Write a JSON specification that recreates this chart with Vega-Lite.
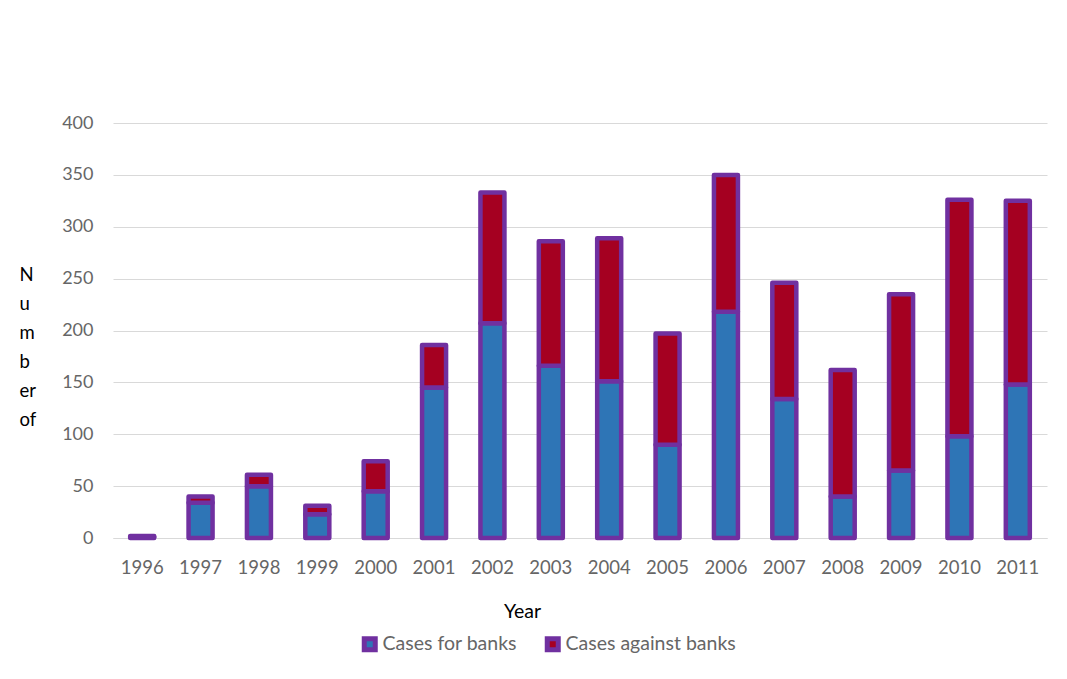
{
  "$schema": "https://vega.github.io/schema/vega-lite/v6.json",
  "autosize": {"type": "none"},
  "padding": {"left": 113, "top": 123, "right": 20, "bottom": 141},
  "width": 934,
  "height": 415,
  "background": "white",
  "config": {"view": {"stroke": null}, "font": "Lato"},
  "data": {
    "values": [
      {"year": "1996", "series": "Cases for banks", "value": 1},
      {"year": "1996", "series": "Cases against banks", "value": 1},
      {"year": "1997", "series": "Cases for banks", "value": 34},
      {"year": "1997", "series": "Cases against banks", "value": 6},
      {"year": "1998", "series": "Cases for banks", "value": 50},
      {"year": "1998", "series": "Cases against banks", "value": 11},
      {"year": "1999", "series": "Cases for banks", "value": 23},
      {"year": "1999", "series": "Cases against banks", "value": 8},
      {"year": "2000", "series": "Cases for banks", "value": 45},
      {"year": "2000", "series": "Cases against banks", "value": 29},
      {"year": "2001", "series": "Cases for banks", "value": 145},
      {"year": "2001", "series": "Cases against banks", "value": 41},
      {"year": "2002", "series": "Cases for banks", "value": 207},
      {"year": "2002", "series": "Cases against banks", "value": 126},
      {"year": "2003", "series": "Cases for banks", "value": 166},
      {"year": "2003", "series": "Cases against banks", "value": 120},
      {"year": "2004", "series": "Cases for banks", "value": 151},
      {"year": "2004", "series": "Cases against banks", "value": 138},
      {"year": "2005", "series": "Cases for banks", "value": 90},
      {"year": "2005", "series": "Cases against banks", "value": 107},
      {"year": "2006", "series": "Cases for banks", "value": 218},
      {"year": "2006", "series": "Cases against banks", "value": 132},
      {"year": "2007", "series": "Cases for banks", "value": 134},
      {"year": "2007", "series": "Cases against banks", "value": 112},
      {"year": "2008", "series": "Cases for banks", "value": 40},
      {"year": "2008", "series": "Cases against banks", "value": 122},
      {"year": "2009", "series": "Cases for banks", "value": 65},
      {"year": "2009", "series": "Cases against banks", "value": 170},
      {"year": "2010", "series": "Cases for banks", "value": 98},
      {"year": "2010", "series": "Cases against banks", "value": 228},
      {"year": "2011", "series": "Cases for banks", "value": 148},
      {"year": "2011", "series": "Cases against banks", "value": 177}
    ]
  },
  "mark": {"type": "bar", "size": 24, "stroke": "#7030a0", "strokeWidth": 4.5, "strokeJoin": "round"},
  "encoding": {
    "x": {
      "field": "year",
      "type": "ordinal",
      "scale": {"paddingInner": 0.5, "paddingOuter": 0.25},
      "axis": {
        "title": "Year",
        "labelAngle": 0,
        "labelColor": "#666666",
        "labelFontSize": 18.5,
        "labelPadding": 20,
        "ticks": false,
        "domainColor": "#d9d9d9",
        "titleFontSize": 19.5,
        "titleColor": "black",
        "titleFontWeight": "normal",
        "titleX": 409,
        "titleY": 79,
        "titleBaseline": "alphabetic"
      }
    },
    "y": {
      "field": "value",
      "type": "quantitative",
      "scale": {"domain": [0, 400]},
      "axis": {
        "values": [0, 50, 100, 150, 200, 250, 300, 350, 400],
        "grid": true,
        "gridColor": "#d9d9d9",
        "domain": false,
        "ticks": false,
        "labelPadding": 20,
        "labelColor": "#666666",
        "labelFontSize": 18,
        "title": ["N", "u", "m", "b", "er", "of"],
        "titleAngle": 0,
        "titleAlign": "left",
        "titleX": -94,
        "titleY": 157,
        "titleBaseline": "alphabetic",
        "titleLineHeight": 29,
        "titleFontSize": 18.5,
        "titleFontWeight": "normal",
        "titleColor": "black"
      }
    },
    "color": {
      "field": "series",
      "type": "nominal",
      "scale": {"domain": ["Cases for banks", "Cases against banks"], "range": ["#2e75b6", "#a50021"]},
      "legend": {
        "title": null,
        "orient": "none",
        "direction": "horizontal",
        "legendX": 247,
        "legendY": 511,
        "symbolType": "square",
        "symbolSize": 121,
        "symbolStrokeColor": "#7030a0",
        "symbolStrokeWidth": 5,
        "labelFontSize": 19.5,
        "labelColor": "#666666",
        "labelOffset": 3,
        "labelLimit": 400,
        "columnPadding": 20
      }
    },
    "order": {"field": "series", "sort": "descending"}
  }
}
